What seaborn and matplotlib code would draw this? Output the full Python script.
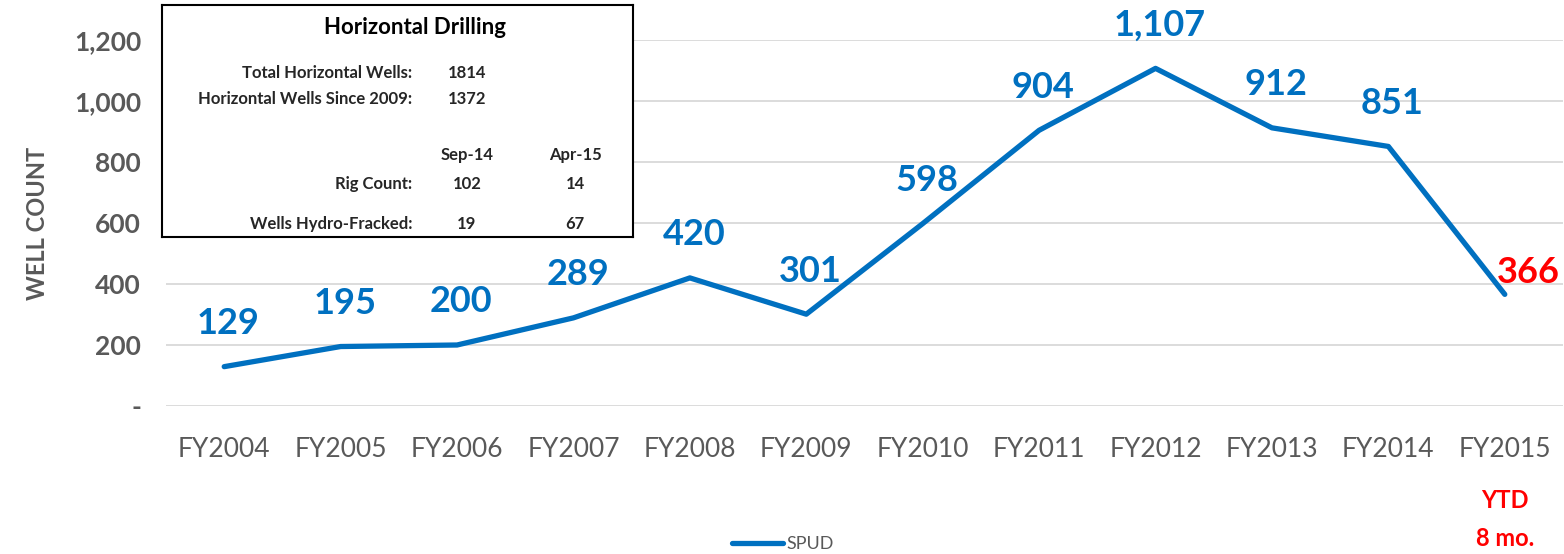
import matplotlib.pyplot as plt
import seaborn as sns
from matplotlib.ticker import FuncFormatter

# chart data
years = ["FY2004", "FY2005", "FY2006", "FY2007", "FY2008", "FY2009",
         "FY2010", "FY2011", "FY2012", "FY2013", "FY2014", "FY2015"]
spud = [129, 195, 200, 289, 420, 301, 598, 904, 1107, 912, 851, 366]

# inset table text
table_labels = ["Total Horizontal Wells:", "Horizontal Wells Since 2009:"]
table_values = ["1814", "1372"]
period_cols = ["Sep-14", "Apr-15"]
period_rows = ["Rig Count:", "Wells Hydro-Fracked:"]
period_values = [["102", "14"], ["19", "67"]]

blue = "#0070C0"
gray = "#595959"
red = "#FF0000"

sns.set_theme(style="white")
plt.rcParams['font.family'] = ['Lato', 'DejaVu Sans']

W, H = 1564, 554
fig = plt.figure(figsize=(W / 100, H / 100), dpi=100)
ax = fig.add_axes([166 / W, 1 - 406 / H, (1563 - 166) / W, (406 - 40) / H])

sns.lineplot(x=list(range(len(years))), y=spud, ax=ax, color=blue,
             linewidth=3.8, label="SPUD", solid_capstyle="round")

ax.set_xlim(-0.5, len(years) - 0.5)
ax.set_ylim(0, 1200)
ax.set_yticks(range(0, 1201, 200))
ax.yaxis.set_major_formatter(FuncFormatter(lambda v, p: "-" if v == 0 else f"{int(v):,}"))
ax.set_xticks(range(len(years)))
ax.set_xticklabels(years)
ax.grid(axis="y", color="#D9D9D9", linewidth=1.3)
ax.set_axisbelow(True)
for s in ax.spines.values():
    s.set_visible(False)
ax.tick_params(axis="x", colors=gray, labelsize=19, pad=22, length=0)
ax.tick_params(axis="y", colors=gray, labelsize=19, pad=18, length=0)
for t in ax.get_yticklabels():
    t.set_fontweight("bold")
ax.set_ylabel("WELL COUNT", color=gray, fontsize=17, fontweight="bold", labelpad=18)
ax.set_xlabel("")

# data labels
for i, v in enumerate(spud):
    if i == len(spud) - 1:
        ax.annotate(str(v), (i, v), xytext=(17, 16), textcoords="offset points",
                    ha="center", va="center", color=red, fontsize=26, fontweight="bold")
    else:
        ax.annotate(f"{v:,}", (i, v), xytext=(3, 31), textcoords="offset points",
                    ha="center", va="center", color=blue, fontsize=26, fontweight="bold")

# YTD note under the last category
xfig = fig.transFigure.inverted().transform(ax.transData.transform((len(years) - 1, 0)))[0]
fig.text(xfig, 1 - 501 / H, "YTD", ha="center", va="center", color=red,
         fontsize=17, fontweight="bold")
fig.text(xfig, 1 - 538 / H, "8 mo.", ha="center", va="center", color=red,
         fontsize=17, fontweight="bold")

leg = ax.legend(loc="center", bbox_to_anchor=(783 / W, 1 - 544 / H),
                bbox_transform=fig.transFigure, frameon=False, fontsize=13,
                handlelength=2.8, handletextpad=0.2)
for t in leg.get_texts():
    t.set_color(gray)

# inset box
box = fig.add_axes([162 / W, 1 - 237 / H, (633 - 162) / W, (237 - 5) / H])
box.set_xlim(162, 633)
box.set_ylim(237, 5)
box.set_xticks([])
box.set_yticks([])
box.set_facecolor("white")
for s in box.spines.values():
    s.set_color("black")
    s.set_linewidth(1.5)
box.text(415, 27, "Horizontal Drilling", ha="center", va="center",
         fontsize=16, fontweight="bold", color="black")
fs = 12
for lab, val, y in zip(table_labels, table_values, [73, 99]):
    box.text(412, y, lab, ha="right", va="center", fontsize=fs, fontweight="bold")
    box.text(467, y, val, ha="center", va="center", fontsize=fs, fontweight="bold")
for c, x in zip(period_cols, [467, 575]):
    box.text(x, 155, c, ha="center", va="center", fontsize=fs, fontweight="bold")
for lab, vals, y in zip(period_rows, period_values, [184, 224]):
    box.text(412, y, lab, ha="right", va="center", fontsize=fs, fontweight="bold")
    for v, x in zip(vals, [467, 575]):
        box.text(x, y, v, ha="center", va="center", fontsize=fs, fontweight="bold")

fig.savefig("out.png", dpi=100)
